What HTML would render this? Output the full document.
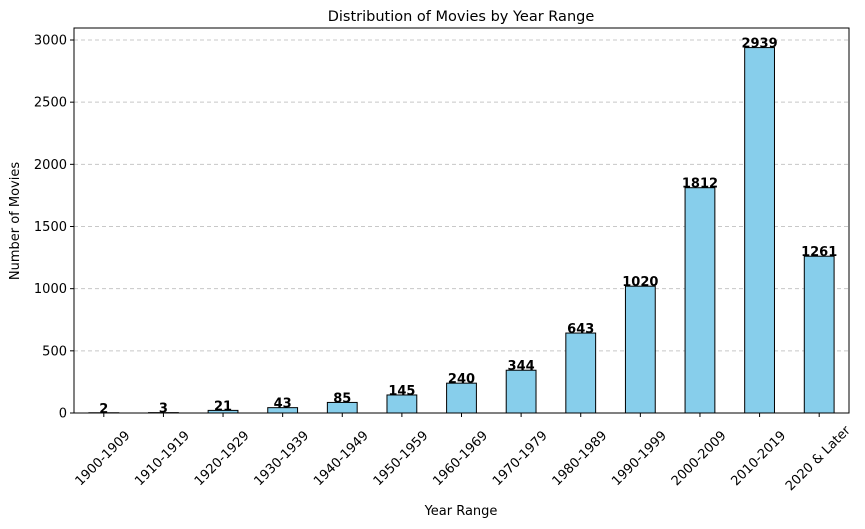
<!DOCTYPE html>
<html><head><meta charset="utf-8"><style>
body{margin:0;background:#fff;font-family:"Liberation Sans","DejaVu Sans",sans-serif;}
svg text{font-family:"DejaVu Sans","Liberation Sans",sans-serif;}
</style></head><body>
<svg id="chart" width="865" height="524" xmlns="http://www.w3.org/2000/svg">
<text x="461" y="21" font-size="14.5" text-anchor="middle">Distribution of Movies by Year Range</text>
<g id="grid"></g><g id="bars"></g><g id="labels"></g><g id="xticks"></g><g id="yticks"></g>
<rect x="74" y="28" width="775" height="385" fill="none" stroke="#000" stroke-width="1"/>
<text x="461" y="515" font-size="13" text-anchor="middle">Year Range</text>
<text transform="translate(19,221) rotate(-90)" font-size="13" text-anchor="middle">Number of Movies</text>
</svg>
<script>
const categories=["1900-1909","1910-1919","1920-1929","1930-1939","1940-1949","1950-1959","1960-1969","1970-1979","1980-1989","1990-1999","2000-2009","2010-2019","2020 & Later"];
const values=[2,3,21,43,85,145,240,344,643,1020,1812,2939,1261];
const yTicks=[0,500,1000,1500,2000,2500,3000];
const NS="http://www.w3.org/2000/svg";
const L=74,R=849,T=28,B=413;
const step=(R-L)/categories.length;
const xc=i=>L+step*(i+0.5);
const y=v=>B-v*(373/3000);
function mk(tag,attrs,parent,txt){const e=document.createElementNS(NS,tag);for(const k in attrs)e.setAttribute(k,attrs[k]);if(txt!==undefined)e.textContent=txt;document.getElementById(parent).appendChild(e);return e;}
yTicks.forEach(t=>{
  if(t>0){const g=mk('line',{x1:L,x2:R,y1:y(t),y2:y(t),stroke:'#c8c8c8','stroke-dasharray':'4,3'},'grid');
  
  }
  const tk=mk('line',{x1:L-4,x2:L,y1:y(t),y2:y(t),stroke:'#000'},'yticks');
  
  
  const tl=mk('text',{x:L-7,y:y(t)+4.5,'font-size':13,'text-anchor':'end'},'yticks',t);
  
  
});
const bw=step*0.5;
categories.forEach((c,i)=>{
  const b=mk('rect',{x:xc(i)-bw/2,y:y(values[i]),width:bw,height:B-y(values[i]),fill:'#87ceeb',stroke:'#000','stroke-width':1},'bars');
  
  
  const v=mk('text',{x:xc(i),y:y(values[i]),'font-size':13,'font-weight':'bold','text-anchor':'middle'},'labels',values[i]);
  
  
  const tk=mk('line',{x1:xc(i),x2:xc(i),y1:B,y2:B+4,stroke:'#000'},'xticks');
  
  
  const cx=xc(i)-1.5, cy=458;
  const tl=mk('text',{x:cx,y:cy+4.5,'font-size':13,'text-anchor':'middle',transform:`rotate(-45 ${cx} ${cy})`},'xticks',c);
  
  
});
</script>
</body></html>
